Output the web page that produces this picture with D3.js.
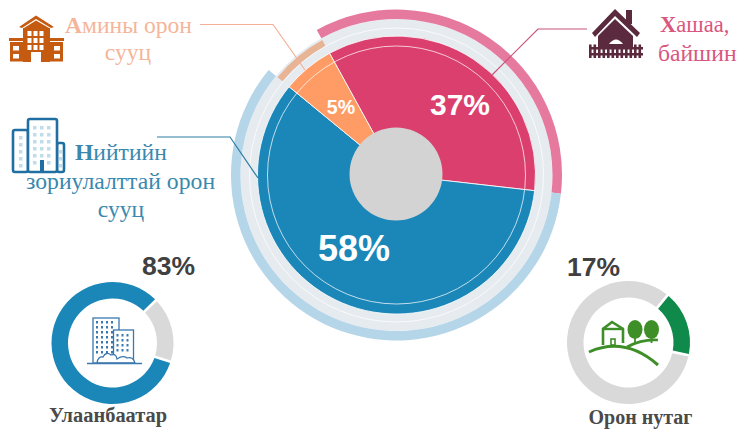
<!DOCTYPE html>
<html>
<head>
<meta charset="utf-8">
<script src="https://cdn.jsdelivr.net/npm/d3@7"></script>
<style>
  html, body { margin: 0; padding: 0; background: #fff; }
  svg { display: block; }
  .serif { font-family: "Liberation Serif", serif; }
  .sans { font-family: "Liberation Sans", sans-serif; font-weight: bold; }
</style>
</head>
<body>
<svg id="chart" width="737" height="430"></svg>
<script>
  // clockwise from the top: red, blue, orange
  const housingTypes = ["Хашаа, байшин", "Нийтийн зориулалттай орон сууц", "Амины орон сууц"];
  const housingLabels = ["37%", "58%", "5%"];
  // slice sizes as drawn in the picture (they differ a little from the printed labels)
  const housingDrawn = [34.8, 59.15, 6.05];
  const housingColors = ["#db3f6e", "#1a87b8", "#ff9c66"];
  const housingRingColors = ["#e5799e", "#b5d5e8", "#e8b496"];

  const ubValues = [83, 17];
  const ruralValues = [17, 83];

  const svg = d3.select("#chart");
  const TAU = Math.PI * 2;
  const deg = (d) => (d / 180) * Math.PI;

  // ---------- Main pie ----------
  const main = svg.append("g").attr("transform", "translate(396.5,175)");
  const pieAngles = d3.pie().sort(null).startAngle(deg(-28.8)).endAngle(deg(-28.8 + 360))(housingDrawn);

  main.append("path")
    .attr("d", d3.arc().innerRadius(138).outerRadius(156).startAngle(0).endAngle(TAU)())
    .attr("fill", "#e6ebf0");

  main.selectAll("path.slice")
    .data(pieAngles)
    .join("path")
    .attr("class", "slice")
    .attr("d", d3.arc().innerRadius(0).outerRadius(139))
    .attr("fill", (d, i) => housingColors[i])
    .attr("stroke", "#fff")
    .attr("stroke-width", 0.8);

  // thin white circles
  main.selectAll("circle.thin")
    .data([129, 147])
    .join("circle")
    .attr("class", "thin")
    .attr("r", (d) => d)
    .attr("fill", "none")
    .attr("stroke", "#fff")
    .attr("stroke-opacity", 0.8)
    .attr("stroke-width", 0.9);

  // outer ring, the small slice sits lower than the others
  main.selectAll("path.ring")
    .data(pieAngles)
    .join("path")
    .attr("class", "ring")
    .attr("d", (d, i) => d3.arc()
      .innerRadius(i === 2 ? 147.5 : 156)
      .outerRadius(i === 2 ? 154 : 165.5)(d))
    .attr("fill", (d, i) => housingRingColors[i]);

  svg.append("circle")
    .attr("cx", 396).attr("cy", 174).attr("r", 46.5)
    .attr("fill", "#d3d3d3");

  // slice labels
  const sliceLabelPos = [[460, 115, 30], [354, 261, 36], [341, 114, 19.6]];
  svg.selectAll("text.slice-label")
    .data(housingLabels)
    .join("text")
    .attr("class", "slice-label sans")
    .attr("text-anchor", "middle")
    .attr("x", (d, i) => sliceLabelPos[i][0])
    .attr("y", (d, i) => sliceLabelPos[i][1])
    .attr("font-size", (d, i) => sliceLabelPos[i][2])
    .attr("fill", "#fff")
    .text((d) => d);

  // ---------- Leader lines ----------
  const leaders = [
    { pts: [[587, 29], [538, 29], [492, 75]], color: "#c9527b" },
    { pts: [[200, 24.5], [273, 24.5], [305, 70]], color: "#f4b096" },
    { pts: [[157, 137], [230, 137], [258, 178]], color: "#2f7ea6" },
  ];
  svg.selectAll("path.leader")
    .data(leaders)
    .join("path")
    .attr("class", "leader")
    .attr("d", (d) => d3.line()(d.pts))
    .attr("fill", "none")
    .attr("stroke", (d) => d.color)
    .attr("stroke-width", 1.2);

  // ---------- Text labels ----------
  function label(first, rest, x, y, anchor, size, color) {
    const t = svg.append("text")
      .attr("class", "serif")
      .attr("x", x).attr("y", y)
      .attr("text-anchor", anchor)
      .attr("font-size", size)
      .attr("fill", color);
    if (first) t.append("tspan").attr("font-weight", "bold").text(first);
    t.append("tspan").text(rest);
  }

  label("А", "мины орон", 65, 33, "start", 23.6, "#f5b599");
  label("", "сууц", 128, 60, "middle", 23.6, "#f5b599");
  label("Н", "ийтийн", 75, 160, "start", 23.6, "#3a88ae");
  label("", "зориулалттай орон", 26, 189, "start", 23.7, "#3a88ae");
  label("", "сууц", 121, 217, "middle", 23.6, "#3a88ae");
  label("Х", "ашаа,", 660, 32, "start", 22.6, "#d9567f");
  label("", "байшин", 658, 61, "start", 23.6, "#d9567f");

  // ---------- Small donuts ----------
  function donut(values, colors, cx, cy, startDeg, inner, outer) {
    const g = svg.append("g").attr("transform", `translate(${cx},${cy})`);
    const angles = d3.pie().sort(null).startAngle(deg(startDeg)).endAngle(deg(startDeg + 360)).padAngle(deg(2))(values);
    g.selectAll("path")
      .data(angles)
      .join("path")
      .attr("d", d3.arc().innerRadius(inner).outerRadius(outer))
      .attr("fill", (d, i) => colors[i]);
  }

  donut(ubValues, ["#1a87b8", "#d9d9d9"], 112.5, 343, 108, 44.5, 61);
  donut(ruralValues, ["#0f8a4a", "#d9d9d9"], 628.5, 342.5, 39.5, 45, 61.5);

  svg.append("text").attr("class", "sans").attr("x", 168.5).attr("y", 275).attr("text-anchor", "middle")
    .attr("font-size", 26.5).attr("fill", "#404040").text(ubValues[0] + "%");
  svg.append("text").attr("class", "sans").attr("x", 593.5).attr("y", 276).attr("text-anchor", "middle")
    .attr("font-size", 26.5).attr("fill", "#404040").text(ruralValues[0] + "%");

  svg.append("text").attr("class", "serif").attr("x", 108).attr("y", 422).attr("text-anchor", "middle")
    .attr("font-size", 20.4).attr("font-weight", "bold").attr("fill", "#4a4a4a").text("Улаанбаатар");
  svg.append("text").attr("class", "serif").attr("x", 640.5).attr("y", 424).attr("text-anchor", "middle")
    .attr("font-size", 20).attr("font-weight", "bold").attr("fill", "#4a4a4a").text("Орон нутаг");

  // ---------- Icons ----------
  function windows(g, xs, ys, w, h, color) {
    for (const x of xs) {
      for (const y of ys) {
        g.append("rect").attr("x", x).attr("y", y).attr("width", w).attr("height", h).attr("fill", color);
      }
    }
  }

  // orange house
  const orange = svg.append("g").attr("fill", "#c55a11");
  orange.append("path").attr("d", "M19,27 L36,15.5 L54,27 L51,28 L36,19 L22,28 Z");
  orange.append("path").attr("d", "M24,28 L36,20.5 L49,28 Z");
  orange.append("rect").attr("x", 23).attr("y", 28).attr("width", 27).attr("height", 34);
  orange.append("rect").attr("x", 9).attr("y", 38).attr("width", 55).attr("height", 3);
  orange.append("rect").attr("x", 10).attr("y", 42).attr("width", 53).attr("height", 19.5);
  windows(orange, [27.5, 33.5, 39.5], [31, 38, 45], 4, 5, "#fff");
  windows(orange, [13, 54], [46, 54], 6, 4.5, "#fff");
  orange.append("rect").attr("x", 31).attr("y", 52).attr("width", 10).attr("height", 10).attr("fill", "#fff");

  // blue towers
  const towers = svg.append("g");
  towers.selectAll("rect")
    .data([[13, 130, 15, 42], [57, 143, 7, 29], [28, 119, 29, 53]])
    .join("rect")
    .attr("x", (d) => d[0]).attr("y", (d) => d[1])
    .attr("width", (d) => d[2]).attr("height", (d) => d[3])
    .attr("rx", 2)
    .attr("fill", "#fff").attr("stroke", "#1f6fa3").attr("stroke-width", 2.6);
  windows(towers, [33, 40, 47], [126, 133, 140, 147, 154, 161], 3.5, 3.5, "#bfdceb");
  windows(towers, [19], [136, 143, 150, 157, 164], 3.5, 3.5, "#bfdceb");
  windows(towers, [59], [150, 157, 164], 3, 3.5, "#bfdceb");
  towers.append("rect").attr("x", 40).attr("y", 160).attr("width", 4).attr("height", 12).attr("fill", "#1f6fa3");

  // red house with fence
  const redHouse = svg.append("g").attr("fill", "#5b2a3e");
  redHouse.append("rect").attr("x", 626).attr("y", 10).attr("width", 6).attr("height", 14);
  redHouse.append("path").attr("d", "M592,33 L615,9 L640,33 L637,37 L615,16 L595,37 Z");
  redHouse.append("path").attr("d", "M598,36 L615,19 L633,36 L633,47 L598,47 Z");
  redHouse.append("rect").attr("x", 589).attr("y", 47).attr("width", 54).attr("height", 2.5);
  redHouse.append("rect").attr("x", 589).attr("y", 53).attr("width", 54).attr("height", 2.5);
  redHouse.selectAll("rect.picket")
    .data(d3.range(589, 643, 4.5))
    .join("rect")
    .attr("class", "picket")
    .attr("x", (d) => d).attr("y", 44.5).attr("width", 2.6).attr("height", 13.5);
  redHouse.append("path").attr("d", "M609,44 Q616,35 623,44 Z").attr("fill", "#fff");

  // city icon inside the Ulaanbaatar donut
  const city = svg.append("g").attr("fill", "none").attr("stroke", "#3b78ae").attr("stroke-width", 1.3);
  city.append("rect").attr("x", 93).attr("y", 318).attr("width", 26).attr("height", 45).attr("fill", "#fff");
  city.append("rect").attr("x", 113.5).attr("y", 330).attr("width", 20).attr("height", 33).attr("fill", "#fff");
  windows(city.append("g").attr("stroke", "none"), [96, 101, 106, 111], [321, 326, 331, 336, 341, 346, 351], 2, 2.5, "#3b78ae");
  windows(city.append("g").attr("stroke", "none"), [116.5, 121.5, 126.5], [334, 339, 344, 349], 2, 2.5, "#3b78ae");
  city.append("path").attr("d", "M97,363 Q98,356 103,357 Q106,351 111,355 Q116,353 117,359 Q123,355 127,358 Q133,356 135,363 Z").attr("fill", "#fff");
  city.append("path").attr("d", "M87,363.5 L142,363.5").attr("stroke-width", 1.6);

  // house and trees inside the rural donut
  const rural = svg.append("g").attr("stroke", "#3f8f29").attr("fill", "none");
  rural.append("path").attr("d", "M589,352 Q625,336 658,365").attr("stroke-width", 3);
  rural.append("path").attr("d", "M627,347 Q642,339 658,340").attr("stroke-width", 2.6);
  rural.append("path").attr("d", "M603,345 L603,329 L612,322 L623,329 L623,343").attr("stroke-width", 2.6);
  rural.append("path").attr("d", "M602,329 L624,329").attr("stroke-width", 2.4);
  rural.append("rect").attr("x", 611).attr("y", 339).attr("width", 4).attr("height", 6).attr("stroke-width", 1.6);
  rural.selectAll("ellipse")
    .data([635, 651.5])
    .join("ellipse")
    .attr("cx", (d) => d).attr("cy", 329.5).attr("rx", 7.5).attr("ry", 9.5)
    .attr("fill", "#3f8f29").attr("stroke", "none");
  rural.selectAll("path.trunk")
    .data([635, 651.5])
    .join("path")
    .attr("class", "trunk")
    .attr("d", (d) => `M${d},336 L${d},343`)
    .attr("stroke-width", 1.8);
</script>
</body>
</html>
